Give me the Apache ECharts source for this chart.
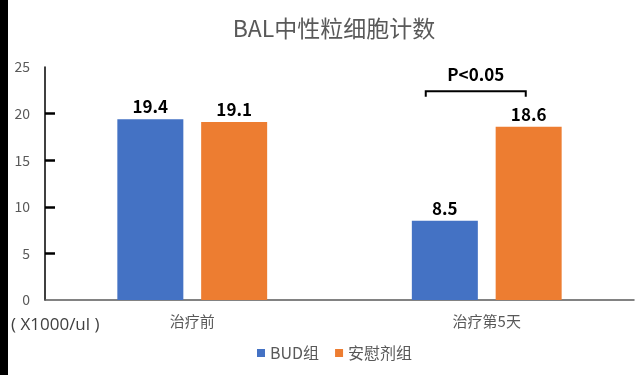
<!DOCTYPE html>
<html><head><meta charset="utf-8">
<script src="https://cdn.jsdelivr.net/npm/echarts@6/dist/echarts.min.js"></script>
<style>html,body{margin:0;padding:0;background:#fff}#c{width:640px;height:375px}</style>
</head><body><div id="c"></div>
<script>
const categories = ['治疗前', '治疗第5天'];
const budValues = [19.4, 8.5];
const placeboValues = [19.1, 18.6];
const seriesNames = ['BUD组', '安慰剂组'];
const yTicks = [5, 10, 15, 20];
const titleText = 'BAL中性粒细胞计数';
const unitText = '( X1000/ul )';
const pText = 'P<0.05';

const FONT = '"Noto Sans CJK SC","Noto Sans",sans-serif';
const chart = echarts.init(document.getElementById('c'));
const labelStyle = {show: true, position: 'top', distance: 4, color: '#000', fontWeight: 'bold', fontSize: 17, fontFamily: FONT};
chart.setOption({
  animation: false,
  backgroundColor: '#fff',
  title: {text: titleText, left: 329, textAlign: 'center', top: 12,
    textStyle: {color: '#595959', fontSize: 23, fontWeight: 'normal', fontFamily: FONT}},
  grid: {left: 45, right: 6, top: 67, bottom: 75, containLabel: false},
  legend: {data: seriesNames, bottom: 9, left: 252, itemWidth: 8, itemHeight: 8, itemGap: 16,
    icon: 'rect', textStyle: {color: '#595959', fontSize: 16, fontFamily: FONT}},
  xAxis: {type: 'category', data: categories,
    axisLine: {lineStyle: {color: '#595959', width: 1.5}},
    axisTick: {show: false},
    axisLabel: {color: '#595959', fontSize: 15, margin: 14, fontFamily: FONT}},
  yAxis: {type: 'value', min: 0, max: 25, interval: 5,
    axisLine: {show: true, lineStyle: {color: '#000', width: 1.5}},
    axisTick: {show: true, inside: true, length: 10, lineStyle: {color: '#000', width: 2.5}, customValues: yTicks},
    splitLine: {show: false},
    axisLabel: {color: '#595959', fontSize: 14, margin: 15, fontFamily: FONT}},
  series: [
    {name: seriesNames[0], type: 'bar', data: budValues, barWidth: 66, barGap: '27%',
      itemStyle: {color: '#4472C4'}, label: labelStyle},
    {name: seriesNames[1], type: 'bar', data: placeboValues, barWidth: 66,
      itemStyle: {color: '#ED7D31'}, label: labelStyle}
  ]
});
const cx = chart.convertToPixel({xAxisIndex: 0}, categories[1]);
const yTop = chart.convertToPixel({yAxisIndex: 0}, 22.4);
const yBot = chart.convertToPixel({yAxisIndex: 0}, 21.8);
const x1 = cx - 61, x2 = cx + 39;
chart.setOption({
  graphic: [
    {type: 'rect', left: 0, top: 0, shape: {x: 0, y: 0, width: 8, height: 375}, style: {fill: '#000'}},
    {type: 'text', x: 11, y: 325, style: {text: unitText, fill: '#404040', fontSize: 17, fontFamily: '"Open Sans","Noto Sans",sans-serif', verticalAlign: 'middle'}},
    {type: 'polyline', shape: {points: [[x1, yBot], [x1, yTop], [x2, yTop], [x2, yBot]]},
      style: {stroke: '#000', lineWidth: 2, fill: null}},
    {type: 'text', x: (x1 + x2) / 2, y: yTop - 17, style: {text: pText, fill: '#000', fontSize: 17, fontWeight: 'bold', fontFamily: FONT, align: 'center', verticalAlign: 'middle'}}
  ]
});
</script></body></html>
